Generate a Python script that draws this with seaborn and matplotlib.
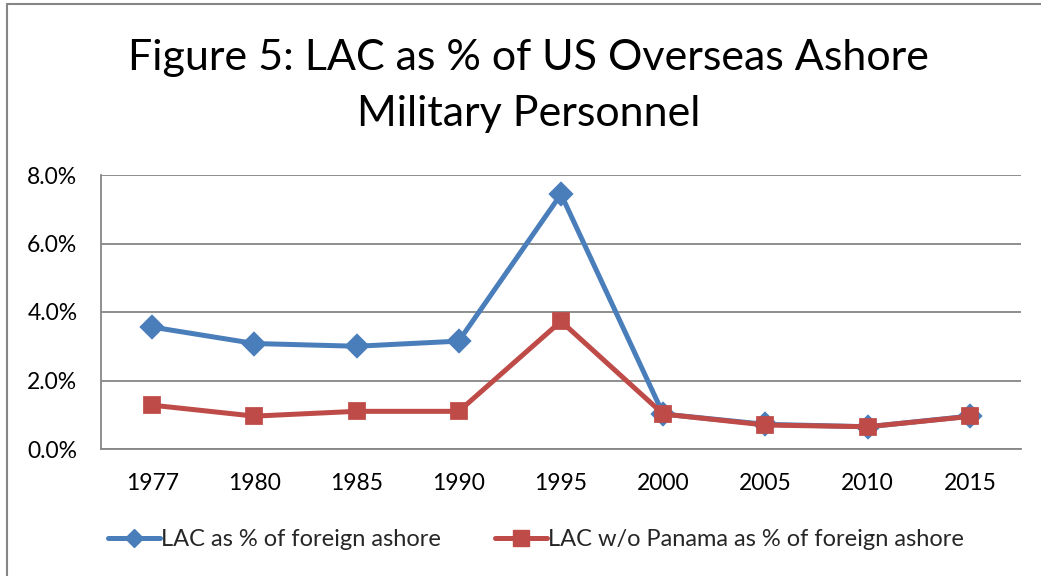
import matplotlib
matplotlib.use("Agg")
import matplotlib.pyplot as plt
import seaborn as sns
import pandas as pd
from matplotlib.lines import Line2D
from matplotlib.ticker import FuncFormatter

years = ["1977", "1980", "1985", "1990", "1995", "2000", "2005", "2010", "2015"]
lac_all = [3.56, 3.08, 3.00, 3.15, 7.44, 1.02, 0.72, 0.65, 0.96]
lac_no_panama = [1.28, 0.96, 1.10, 1.10, 3.73, 1.02, 0.70, 0.65, 0.95]
series_names = ["LAC as % of foreign ashore", "LAC w/o Panama as % of foreign ashore"]
title = "Figure 5: LAC as % of US Overseas Ashore\nMilitary Personnel"

df = pd.DataFrame({
    "year": years * 2,
    "value": lac_all + lac_no_panama,
    "series": [series_names[0]] * len(years) + [series_names[1]] * len(years),
})

sns.set_theme(style="white")
plt.rcParams["font.family"] = ["Lato", "DejaVu Sans"]

fig = plt.figure(figsize=(10.41, 5.76), dpi=100)
ax = fig.add_axes([101 / 1041, 1 - 449 / 576, 920 / 1041, 274 / 576])

colors = ["#4A7EBB", "#BE4B48"]
sns.pointplot(data=df, x="year", y="value", hue="series", order=years,
              hue_order=series_names, palette=colors, markers=["D", "s"],
              linestyles=["-", "-"], errorbar=None, ax=ax,
              markersize=10.5, linewidth=3.6, legend=False)

ax.set_ylim(0, 8)
ax.set_yticks([0, 2, 4, 6, 8])
ax.yaxis.set_major_formatter(FuncFormatter(lambda v, p: f"{v:.1f}%"))
ax.set_xlim(-0.5, len(years) - 0.5)
ax.grid(axis="y", color="#868686", linewidth=1.3)
ax.set_axisbelow(True)
for s in ["top", "right"]:
    ax.spines[s].set_visible(False)
for s in ["left", "bottom"]:
    ax.spines[s].set_color("#868686")
    ax.spines[s].set_linewidth(1.3)
ax.tick_params(axis="both", length=0, labelsize=16.5, colors="black")
ax.tick_params(axis="x", pad=17)
ax.tick_params(axis="y", pad=17)
ax.set_xlabel("")
ax.set_ylabel("")

fig.text(0.508, 1 - 86 / 576, title, ha="center", va="center", fontsize=31,
         linespacing=1.55, color="black")

handles = [
    Line2D([], [], color=colors[0], marker="D", markersize=9, linewidth=3.6),
    Line2D([], [], color=colors[1], marker="s", markersize=11, linewidth=3.6),
]
fig.legend(handles, series_names, loc="center", bbox_to_anchor=(0.515, 1 - 540 / 576),
           ncol=2, frameon=False, fontsize=17, handlelength=2.2, handletextpad=0.05,
           columnspacing=2.3)

fig.add_artist(Line2D([7 / 1041, 1], [1 - 4 / 576, 1 - 4 / 576], color="#868686",
                      linewidth=1.5, transform=fig.transFigure))
fig.add_artist(Line2D([7 / 1041, 7 / 1041], [0, 1 - 4 / 576], color="#868686",
                      linewidth=1.5, transform=fig.transFigure))

fig.savefig("out.png", dpi=100)
